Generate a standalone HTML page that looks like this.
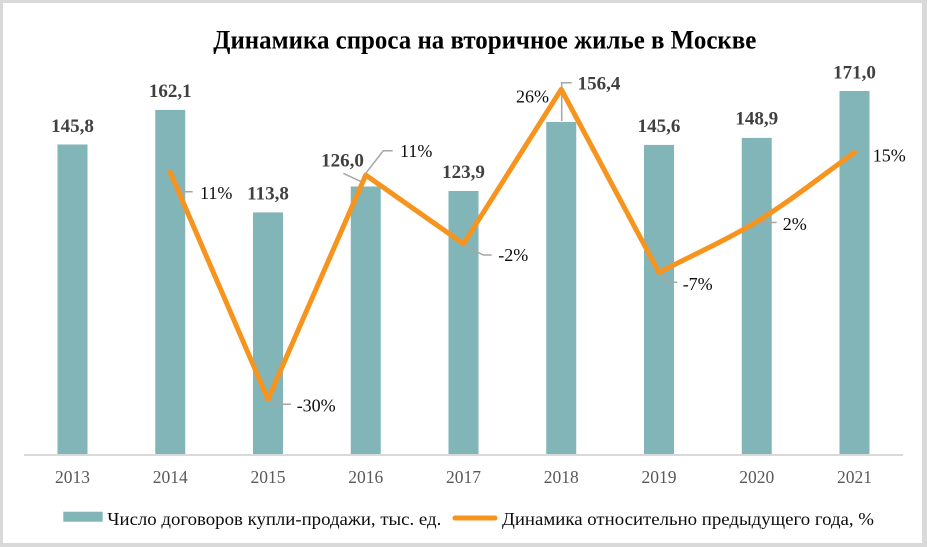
<!DOCTYPE html>
<html>
<head>
<meta charset="utf-8">
<style>
  html, body { margin:0; padding:0; background:#fff; }
  svg { display:block; }
  .bl { font-family:"Liberation Serif", "Noto Serif CJK SC", serif; font-weight:bold; font-size:19px; fill:#404040; text-anchor:middle; }
  .pl { font-family:"Liberation Serif", "Noto Serif CJK SC", serif; font-size:18px; fill:#0d0d0d; }
  .yr { font-family:"Liberation Serif", "Noto Serif CJK SC", serif; font-size:17.5px; fill:#595959; text-anchor:middle; }
  .lg { font-family:"Liberation Serif", "Noto Serif CJK SC", serif; font-size:18px; fill:#0d0d0d; }
  .ld { stroke:#a6a6a6; stroke-width:1.5; fill:none; }
</style>
</head>
<body>
<svg width="927" height="547" viewBox="0 0 927 547" xmlns="http://www.w3.org/2000/svg">
  <rect x="0" y="0" width="927" height="547" fill="#d9d9d9"/>
  <rect x="3" y="3" width="919" height="540" fill="#ffffff"/>

  <!-- Title -->
  <text x="213.3" y="48.3" textLength="543" lengthAdjust="spacingAndGlyphs" style="font-family:'Liberation Serif','Noto Serif CJK SC',serif;font-weight:bold;font-size:26px;fill:#000;">Динамика спроса на вторичное жилье в Москве</text>

  <!-- Bars -->
  <g fill="#82b5b8">
    <rect x="57.5" y="144.5" width="30" height="309.5"/>
    <rect x="155.25" y="109.9" width="30" height="344.1"/>
    <rect x="253" y="212.4" width="30" height="241.6"/>
    <rect x="350.75" y="186.5" width="30" height="267.5"/>
    <rect x="448.5" y="191" width="30" height="263"/>
    <rect x="546.25" y="122" width="30" height="332"/>
    <rect x="644" y="144.9" width="30" height="309.1"/>
    <rect x="741.75" y="137.9" width="30" height="316.1"/>
    <rect x="839.5" y="91" width="30" height="363"/>
  </g>

  <!-- Axis -->
  <line x1="24" y1="455" x2="903" y2="455" stroke="#d9d9d9" stroke-width="2"/>

  <!-- Year labels -->
  <text class="yr" x="72.5" y="483">2013</text>
  <text class="yr" x="170.25" y="483">2014</text>
  <text class="yr" x="268" y="483">2015</text>
  <text class="yr" x="365.75" y="483">2016</text>
  <text class="yr" x="463.5" y="483">2017</text>
  <text class="yr" x="561.25" y="483">2018</text>
  <text class="yr" x="659" y="483">2019</text>
  <text class="yr" x="756.75" y="483">2020</text>
  <text class="yr" x="854.5" y="483">2021</text>

  <!-- Leader lines -->
  <path class="ld" d="M170.5,173.5 L182.7,191.7 L192.7,191.7"/>
  <path class="ld" d="M268.3,399.3 Q274,404.3 280,404.3 L291,404.3"/>
  <path class="ld" d="M343.3,173.3 L364,183"/>
  <path class="ld" d="M365,174.3 L383.3,150.7 L392.7,150.7"/>
  <path class="ld" d="M463.3,245 L483.3,255 L491.7,255"/>
  <path class="ld" d="M561.7,121 L561.7,82.7 L571.7,82.7"/>
  <path class="ld" d="M659,272 L666.7,282.3 L677.3,282.3"/>
  <path class="ld" d="M758,222.5 L776.7,222.5"/>

  <!-- Line series -->
  <path d="M170.25,172.3 L268,399.3 L365.75,175.1 L463.5,243.8 L561.25,89.3 L659,272.5 C691.6,255.5 724,241.4 756.75,221.6 C789.4,201.8 822,175.7 854.5,152.4"
        fill="none" stroke="#f7941e" stroke-width="5" stroke-linejoin="round" stroke-linecap="round"/>

  <!-- Bar value labels -->
  <text class="bl" x="72.5" y="132">145,8</text>
  <text class="bl" x="170.25" y="97">162,1</text>
  <text class="bl" x="268" y="199.5">113,8</text>
  <text class="bl" x="342.5" y="166.7">126,0</text>
  <text class="bl" x="463.5" y="178">123,9</text>
  <text class="bl" x="599" y="89.5">156,4</text>
  <text class="bl" x="659" y="132">145,6</text>
  <text class="bl" x="756.75" y="124.5">148,9</text>
  <text class="bl" x="854.5" y="78.5">171,0</text>

  <!-- Percent labels -->
  <text class="pl" x="200" y="199">11%</text>
  <text class="pl" x="296.7" y="411.7">-30%</text>
  <text class="pl" x="400" y="157">11%</text>
  <text class="pl" x="498.3" y="261">-2%</text>
  <text class="pl" x="516" y="102.5">26%</text>
  <text class="pl" x="682.7" y="290">-7%</text>
  <text class="pl" x="782.7" y="230">2%</text>
  <text class="pl" x="872.7" y="161.5">15%</text>

  <!-- Legend -->
  <rect x="63.3" y="511.7" width="39.4" height="10" fill="#82b5b8"/>
  <text class="lg" x="107.3" y="525" textLength="334" lengthAdjust="spacingAndGlyphs">Число договоров купли-продажи, тыс. ед.</text>
  <line x1="455" y1="518" x2="495" y2="518" stroke="#f7941e" stroke-width="5" stroke-linecap="round"/>
  <text class="lg" x="502" y="525" textLength="372" lengthAdjust="spacingAndGlyphs">Динамика относительно предыдущего года, %</text>
</svg>
</body>
</html>
